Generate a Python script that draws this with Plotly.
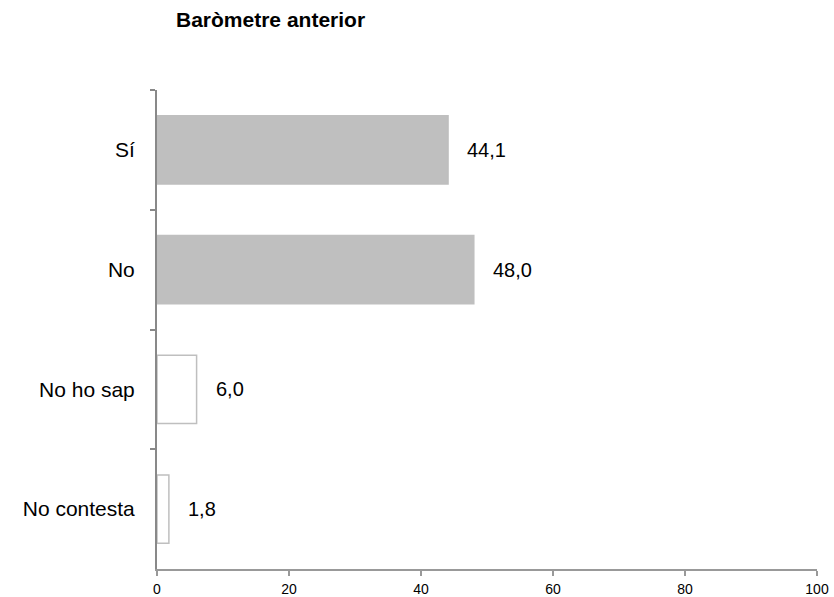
import plotly.graph_objects as go

categories = ["Sí", "No", "No ho sap", "No contesta"]
values = [44.1, 48.0, 6.0, 1.8]
labels = ["44,1", "48,0", "6,0", "1,8"]
fill_colors = ["#BFBFBF", "#BFBFBF", "#FFFFFF", "#FFFFFF"]
line_colors = ["#BFBFBF", "#BFBFBF", "#BFBFBF", "#BFBFBF"]
x_ticks = [0, 20, 40, 60, 80, 100]

FONT = "Liberation Sans, Arial, sans-serif"

fig = go.Figure()
fig.add_trace(go.Bar(
    x=values, y=categories, orientation="h",
    marker=dict(color=fill_colors, line=dict(color=line_colors, width=1.5)),
    width=0.57, hoverinfo="skip",
))

for v, c, t in zip(values, categories, labels):
    fig.add_annotation(x=v, y=c, text=t, showarrow=False, xanchor="left",
                       xshift=17, font=dict(size=20, color="#000000", family=FONT))

fig.update_layout(
    width=834, height=597,
    margin=dict(l=157, r=17, t=90, b=28),
    plot_bgcolor="white", paper_bgcolor="white",
    showlegend=False,
    font=dict(family=FONT, color="#000000"),
    title=dict(text="<b>Baròmetre anterior</b>", x=176/834, xanchor="left",
               xref="container",
               y=1 - 20/597, yanchor="middle",
               font=dict(size=21, color="#000000")),
)
fig.update_xaxes(
    range=[0, 100], tickvals=x_ticks, ticktext=[str(v) for v in x_ticks],
    showgrid=False, zeroline=False, showline=True, linecolor="#999999", linewidth=1.5,
    ticks="outside", ticklen=5, tickcolor="#999999", tickwidth=1.5,
    tickfont=dict(size=14, color="#000000"), ticklabelstandoff=1, automargin=False,
)
fig.update_yaxes(
    categoryorder="array", categoryarray=categories, autorange="reversed",
    showgrid=False, zeroline=False, showline=True, linecolor="#898989", linewidth=2,
    ticks="outside", tickson="boundaries", ticklen=5, tickcolor="#898989", tickwidth=1.5,
    tickfont=dict(size=21, color="#000000"), ticklabelstandoff=16, automargin=False,
)

fig.write_html("out.html", config={"displayModeBar": False},
               post_script="document.body.style.margin='0';document.body.style.padding='0';")
